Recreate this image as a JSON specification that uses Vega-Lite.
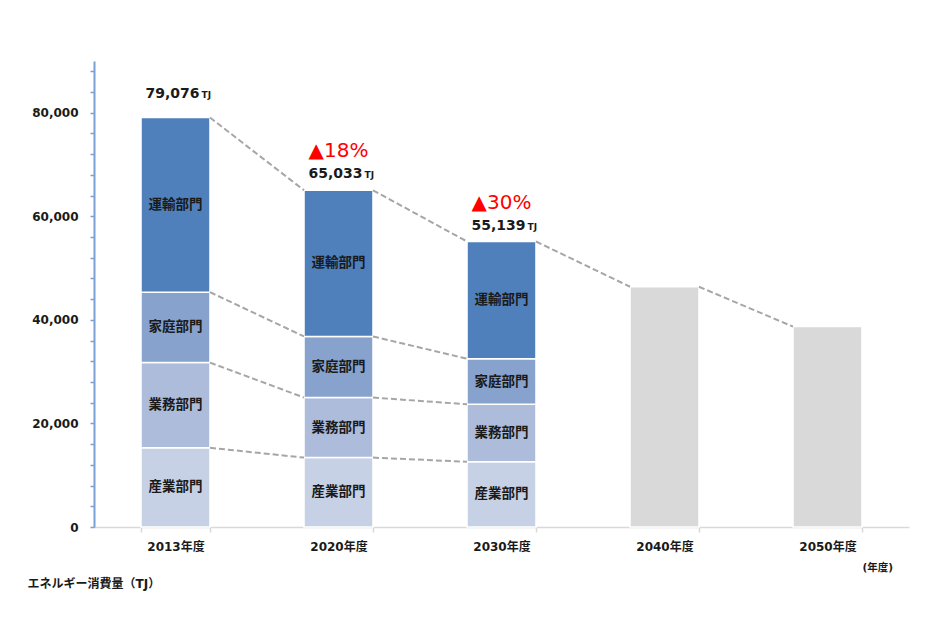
{
  "$schema": "https://vega.github.io/schema/vega-lite/v6.json",
  "width": 815,
  "height": 466,
  "autosize": {"type": "none"},
  "padding": {"left": 94, "top": 61, "right": 42, "bottom": 108},
  "background": "white",
  "config": {
    "font": "DejaVu Sans, Noto Sans CJK JP",
    "view": {"stroke": null},
    "axisY": {
      "titleAngle": 0,
      "titleAlign": "left",
      "titleBaseline": "middle",
      "titleX": -67,
      "titleY": 522,
      "titleFontSize": 12,
      "titleFontWeight": "bold",
      "titleColor": "#1a1a1a",
      "labelOverlap": false,
      "labelFontSize": 12,
      "labelFontWeight": "bold",
      "labelColor": "#1a1a1a",
      "labelPadding": 12,
      "tickSize": 4,
      "tickColor": "#7aa0d4",
      "tickWidth": 1.5,
      "domainColor": "#7aa0d4",
      "domainWidth": 2,
      "grid": false
    },
    "axisX": {
      "titleX": 768,
      "titleY": 40,
      "titleAlign": "left",
      "titleBaseline": "middle",
      "titleFontSize": 10.5,
      "titleFontWeight": "bold",
      "titleColor": "#1a1a1a",
      "labelAngle": 0,
      "labelFontSize": 12,
      "labelFontWeight": "bold",
      "labelColor": "#1a1a1a",
      "labelPadding": 9,
      "tickSize": 5,
      "tickColor": "#d9d9d9",
      "tickWidth": 1.5,
      "tickBand": "extent",
      "domainColor": "#d9d9d9",
      "domainWidth": 1.5
    }
  },
  "datasets": {
    "bars": [
      {"year": "2013年度", "sector": "産業部門", "order": 1, "value": 15300},
      {"year": "2013年度", "sector": "業務部門", "order": 2, "value": 16450},
      {"year": "2013年度", "sector": "家庭部門", "order": 3, "value": 13600},
      {"year": "2013年度", "sector": "運輸部門", "order": 4, "value": 33726},
      {"year": "2020年度", "sector": "産業部門", "order": 1, "value": 13400},
      {"year": "2020年度", "sector": "業務部門", "order": 2, "value": 11600},
      {"year": "2020年度", "sector": "家庭部門", "order": 3, "value": 11800},
      {"year": "2020年度", "sector": "運輸部門", "order": 4, "value": 28233},
      {"year": "2030年度", "sector": "産業部門", "order": 1, "value": 12600},
      {"year": "2030年度", "sector": "業務部門", "order": 2, "value": 11100},
      {"year": "2030年度", "sector": "家庭部門", "order": 3, "value": 8800},
      {"year": "2030年度", "sector": "運輸部門", "order": 4, "value": 22639},
      {"year": "2040年度", "sector": "将来", "order": 1, "value": 46400},
      {"year": "2050年度", "sector": "将来", "order": 1, "value": 38700}
    ],
    "lines": [
      {"from": "2013年度", "to": "2020年度", "v1": 79076, "v2": 65033},
      {"from": "2020年度", "to": "2030年度", "v1": 65033, "v2": 55139},
      {"from": "2030年度", "to": "2040年度", "v1": 55139, "v2": 46400},
      {"from": "2040年度", "to": "2050年度", "v1": 46400, "v2": 38700},
      {"from": "2013年度", "to": "2020年度", "v1": 45350, "v2": 36800},
      {"from": "2020年度", "to": "2030年度", "v1": 36800, "v2": 32500},
      {"from": "2013年度", "to": "2020年度", "v1": 31750, "v2": 25000},
      {"from": "2020年度", "to": "2030年度", "v1": 25000, "v2": 23700},
      {"from": "2013年度", "to": "2020年度", "v1": 15300, "v2": 13400},
      {"from": "2020年度", "to": "2030年度", "v1": 13400, "v2": 12600}
    ],
    "totals": [
      {"year": "2013年度", "total": 79076, "pct": ""},
      {"year": "2020年度", "total": 65033, "pct": "▲18%"},
      {"year": "2030年度", "total": 55139, "pct": "▲30%"}
    ]
  },
  "layer": [
    {
      "data": {"name": "bars"},
      "mark": {"type": "bar", "stroke": "white", "strokeWidth": 1.5},
      "encoding": {
        "x": {
          "field": "year",
          "type": "nominal",
          "scale": {
            "domain": ["2013年度", "2020年度", "2030年度", "2040年度", "2050年度"],
            "paddingInner": 0.577,
            "paddingOuter": 0.2885
          },
          "axis": {"title": "(年度)"}
        },
        "y": {
          "field": "value",
          "type": "quantitative",
          "stack": "zero",
          "scale": {"domain": [0, 90000], "nice": false},
          "axis": {
            "title": "エネルギー消費量（TJ）",
            "values": [0, 4000, 8000, 12000, 16000, 20000, 24000, 28000, 32000, 36000, 40000, 44000, 48000, 52000, 56000, 60000, 64000, 68000, 72000, 76000, 80000, 84000, 88000],
            "labelExpr": "datum.value % 20000 === 0 ? format(datum.value, ',') : ''"
          }
        },
        "order": {"field": "order", "type": "quantitative"},
        "color": {
          "field": "sector",
          "type": "nominal",
          "scale": {
            "domain": ["産業部門", "業務部門", "家庭部門", "運輸部門", "将来"],
            "range": ["#c6d1e5", "#aebcdc", "#86a2cd", "#4f80bc", "#d9d9d9"]
          },
          "legend": null
        }
      }
    },
    {
      "data": {"name": "lines"},
      "mark": {"type": "rule", "strokeDash": [6, 3], "strokeWidth": 2, "color": "#a6a6a6"},
      "encoding": {
        "x": {"field": "from", "type": "nominal", "bandPosition": 1, "axis": {"title": "(年度)"}},
        "x2": {"field": "to", "bandPosition": 0},
        "y": {
          "field": "v1",
          "type": "quantitative",
          "axis": {
            "title": "エネルギー消費量（TJ）",
            "values": [0, 4000, 8000, 12000, 16000, 20000, 24000, 28000, 32000, 36000, 40000, 44000, 48000, 52000, 56000, 60000, 64000, 68000, 72000, 76000, 80000, 84000, 88000],
            "labelExpr": "datum.value % 20000 === 0 ? format(datum.value, ',') : ''"
          }
        },
        "y2": {"field": "v2"}
      }
    },
    {
      "data": {"name": "bars"},
      "transform": [
        {"filter": "datum.sector !== '将来'"},
        {"stack": "value", "groupby": ["year"], "sort": [{"field": "order", "order": "ascending"}], "as": ["y0", "y1"]},
        {"calculate": "(datum.y0 + datum.y1) / 2", "as": "mid"}
      ],
      "mark": {"type": "text", "fontSize": 13.5, "fontWeight": "bold", "color": "#1a1a1a", "baseline": "middle"},
      "encoding": {
        "x": {"field": "year", "type": "nominal", "axis": {"title": "(年度)"}},
        "y": {
          "field": "mid",
          "type": "quantitative",
          "axis": {
            "title": "エネルギー消費量（TJ）",
            "values": [0, 4000, 8000, 12000, 16000, 20000, 24000, 28000, 32000, 36000, 40000, 44000, 48000, 52000, 56000, 60000, 64000, 68000, 72000, 76000, 80000, 84000, 88000],
            "labelExpr": "datum.value % 20000 === 0 ? format(datum.value, ',') : ''"
          }
        },
        "text": {"field": "sector"}
      }
    },
    {
      "data": {"name": "totals"},
      "transform": [{"filter": "datum.year === '2013年度'"}],
      "mark": {"type": "text", "fontSize": 14, "fontWeight": "bold", "color": "#1a1a1a", "align": "right", "baseline": "alphabetic", "dx": 24, "dy": -20},
      "encoding": {
        "x": {"field": "year", "type": "nominal", "axis": {"title": "(年度)"}},
        "y": {
          "field": "total",
          "type": "quantitative",
          "axis": {
            "title": "エネルギー消費量（TJ）",
            "values": [0, 4000, 8000, 12000, 16000, 20000, 24000, 28000, 32000, 36000, 40000, 44000, 48000, 52000, 56000, 60000, 64000, 68000, 72000, 76000, 80000, 84000, 88000],
            "labelExpr": "datum.value % 20000 === 0 ? format(datum.value, ',') : ''"
          }
        },
        "text": {"field": "total", "type": "quantitative", "format": ","}
      }
    },
    {
      "data": {"name": "totals"},
      "transform": [{"filter": "datum.year === '2013年度'"}],
      "mark": {"type": "text", "fontSize": 9, "fontWeight": "bold", "color": "#1a1a1a", "align": "left", "baseline": "alphabetic", "dx": 26, "dy": -20},
      "encoding": {
        "x": {"field": "year", "type": "nominal", "axis": {"title": "(年度)"}},
        "y": {
          "field": "total",
          "type": "quantitative",
          "axis": {
            "title": "エネルギー消費量（TJ）",
            "values": [0, 4000, 8000, 12000, 16000, 20000, 24000, 28000, 32000, 36000, 40000, 44000, 48000, 52000, 56000, 60000, 64000, 68000, 72000, 76000, 80000, 84000, 88000],
            "labelExpr": "datum.value % 20000 === 0 ? format(datum.value, ',') : ''"
          }
        },
        "text": {"value": "TJ"}
      }
    },
    {
      "data": {"name": "totals"},
      "transform": [{"filter": "datum.year !== '2013年度'"}],
      "mark": {"type": "text", "fontSize": 14, "fontWeight": "bold", "color": "#1a1a1a", "align": "right", "baseline": "alphabetic", "dx": 24, "dy": -12},
      "encoding": {
        "x": {"field": "year", "type": "nominal", "axis": {"title": "(年度)"}},
        "y": {
          "field": "total",
          "type": "quantitative",
          "axis": {
            "title": "エネルギー消費量（TJ）",
            "values": [0, 4000, 8000, 12000, 16000, 20000, 24000, 28000, 32000, 36000, 40000, 44000, 48000, 52000, 56000, 60000, 64000, 68000, 72000, 76000, 80000, 84000, 88000],
            "labelExpr": "datum.value % 20000 === 0 ? format(datum.value, ',') : ''"
          }
        },
        "text": {"field": "total", "type": "quantitative", "format": ","}
      }
    },
    {
      "data": {"name": "totals"},
      "transform": [{"filter": "datum.year !== '2013年度'"}],
      "mark": {"type": "text", "fontSize": 9, "fontWeight": "bold", "color": "#1a1a1a", "align": "left", "baseline": "alphabetic", "dx": 26, "dy": -12},
      "encoding": {
        "x": {"field": "year", "type": "nominal", "axis": {"title": "(年度)"}},
        "y": {
          "field": "total",
          "type": "quantitative",
          "axis": {
            "title": "エネルギー消費量（TJ）",
            "values": [0, 4000, 8000, 12000, 16000, 20000, 24000, 28000, 32000, 36000, 40000, 44000, 48000, 52000, 56000, 60000, 64000, 68000, 72000, 76000, 80000, 84000, 88000],
            "labelExpr": "datum.value % 20000 === 0 ? format(datum.value, ',') : ''"
          }
        },
        "text": {"value": "TJ"}
      }
    },
    {
      "data": {"name": "totals"},
      "transform": [{"filter": "datum.pct !== ''"}],
      "mark": {"type": "text", "fontSize": 20, "color": "#ff0000", "align": "center", "baseline": "alphabetic", "dy": -33},
      "encoding": {
        "x": {"field": "year", "type": "nominal", "axis": {"title": "(年度)"}},
        "y": {
          "field": "total",
          "type": "quantitative",
          "axis": {
            "title": "エネルギー消費量（TJ）",
            "values": [0, 4000, 8000, 12000, 16000, 20000, 24000, 28000, 32000, 36000, 40000, 44000, 48000, 52000, 56000, 60000, 64000, 68000, 72000, 76000, 80000, 84000, 88000],
            "labelExpr": "datum.value % 20000 === 0 ? format(datum.value, ',') : ''"
          }
        },
        "text": {"field": "pct"}
      }
    }
  ]
}
